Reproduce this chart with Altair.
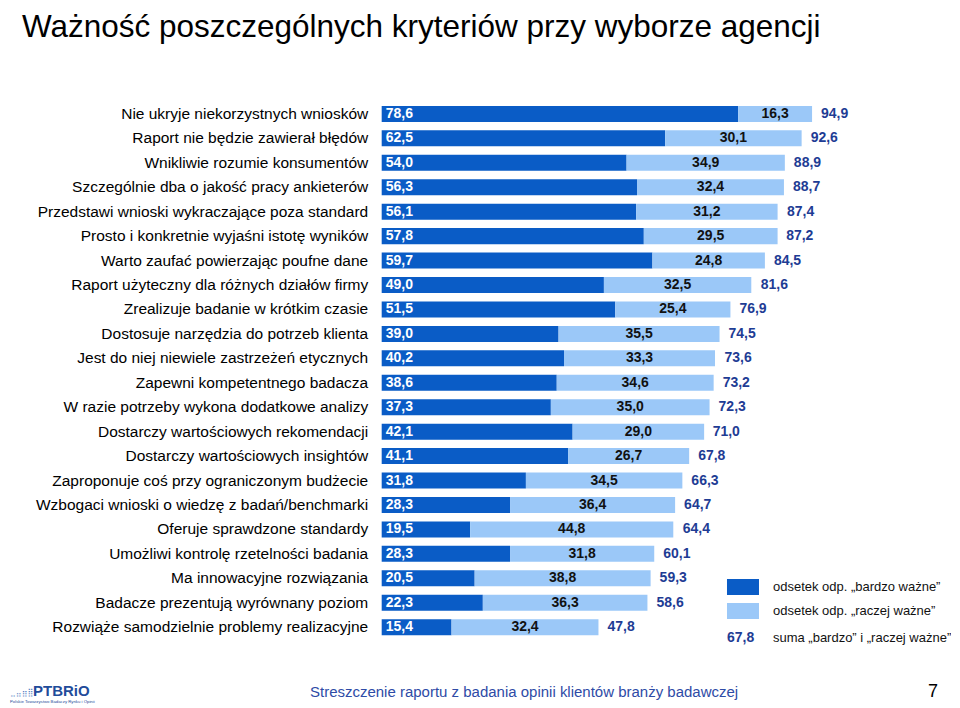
import altair as alt
import pandas as pd

categories = [
    "Nie ukryje niekorzystnych wniosków",
    "Raport nie będzie zawierał błędów",
    "Wnikliwie rozumie konsumentów",
    "Szczególnie dba o jakość pracy ankieterów",
    "Przedstawi wnioski wykraczające poza standard",
    "Prosto i konkretnie wyjaśni istotę wyników",
    "Warto zaufać powierzając poufne dane",
    "Raport użyteczny dla różnych działów firmy",
    "Zrealizuje badanie w krótkim czasie",
    "Dostosuje narzędzia do potrzeb klienta",
    "Jest do niej niewiele zastrzeżeń etycznych",
    "Zapewni kompetentnego badacza",
    "W razie potrzeby wykona dodatkowe analizy",
    "Dostarczy wartościowych rekomendacji",
    "Dostarczy wartościowych insightów",
    "Zaproponuje coś przy ograniczonym budżecie",
    "Wzbogaci wnioski o wiedzę z badań/benchmarki",
    "Oferuje sprawdzone standardy",
    "Umożliwi kontrolę rzetelności badania",
    "Ma innowacyjne rozwiązania",
    "Badacze prezentują wyrównany poziom",
    "Rozwiąże samodzielnie problemy realizacyjne",
]
bardzo = [78.6, 62.5, 54.0, 56.3, 56.1, 57.8, 59.7, 49.0, 51.5, 39.0, 40.2,
          38.6, 37.3, 42.1, 41.1, 31.8, 28.3, 19.5, 28.3, 20.5, 22.3, 15.4]
raczej = [16.3, 30.1, 34.9, 32.4, 31.2, 29.5, 24.8, 32.5, 25.4, 35.5, 33.3,
          34.6, 35.0, 29.0, 26.7, 34.5, 36.4, 44.8, 31.8, 38.8, 36.3, 32.4]
suma = [94.9, 92.6, 88.9, 88.7, 87.4, 87.2, 84.5, 81.6, 76.9, 74.5, 73.6,
        73.2, 72.3, 71.0, 67.8, 66.3, 64.7, 64.4, 60.1, 59.3, 58.6, 47.8]

series_keys = ["bardzo", "raczej"]
legend_labels = ["odsetek odp. „bardzo ważne”", "odsetek odp. „raczej ważne”"]
legend_sum_value = "67,8"
legend_sum_label = "suma „bardzo” i „raczej ważne”"
title_text = "Ważność poszczególnych kryteriów przy wyborze agencji"
footer_text = "Streszczenie raportu z badania opinii klientów branży badawczej"
page_number = "7"
logo_text = "PTBRiO"
logo_dots = "⣀⣤⣶⣿"
logo_sub = "Polskie Towarzystwo Badaczy Rynku i Opinii"

FONT = "Liberation Sans, Arial, Helvetica, sans-serif"
DARK = "#0A5CC6"
LIGHT = "#9BC8F8"
NAVY = "#1E3C94"

df = pd.DataFrame({"kryterium": categories, "bardzo": bardzo,
                   "raczej": raczej, "suma": suma})

W, H = 453.5, 537.7
PL, PT = 373.7, 93.7
PR, PB = 116, 68

xscale = alt.Scale(domain=[0, 100])
yenc = alt.Y(
    "kryterium:N", sort=categories, title=None,
    scale=alt.Scale(paddingInner=0.345, paddingOuter=0.1725),
    axis=alt.Axis(domain=False, ticks=False, labelPadding=14, labelFontSize=15.5,
                  labelFont=FONT, labelColor="#000000", labelLimit=400,
                  labelBaseline="middle"),
)

base = alt.Chart(df)

bars = base.transform_fold(series_keys, as_=["seg", "val"]).transform_calculate(
    ord="datum.seg == 'bardzo' ? 0 : 1"
).mark_bar().encode(
    y=yenc,
    x=alt.X("val:Q", stack="zero", scale=xscale, axis=None),
    color=alt.Color(
        "seg:N",
        scale=alt.Scale(domain=series_keys, range=[DARK, LIGHT]),
        legend=alt.Legend(
            title=None, orient="none", legendX=345.3, legendY=469.3, padding=0,
            symbolType="M-1,-0.5H1V0.5H-1Z", symbolSize=1024, symbolStrokeWidth=0,
            symbolOpacity=1, labelFont=FONT, labelFontSize=13, labelColor="#111111",
            labelOffset=14, rowPadding=0, labelLimit=300,
            labelExpr="datum.value == 'bardzo' ? '" + legend_labels[0] + "' : '" + legend_labels[1] + "'",
        ),
    ),
    order=alt.Order("ord:Q"),
)

fmt = "replace(format({f}, '.1f'), '.', ',')"

dark_txt = base.transform_calculate(
    zero="0", lbl=fmt.format(f="datum.bardzo")
).mark_text(align="left", baseline="middle", dx=4, color="white",
            fontWeight="bold", fontSize=14, font=FONT).encode(
    y=yenc, x=alt.X("zero:Q", scale=xscale), text="lbl:N")

light_txt = base.transform_calculate(
    mid="datum.bardzo + datum.raczej / 2", lbl=fmt.format(f="datum.raczej")
).mark_text(align="center", baseline="middle", color="#111111",
            fontWeight="bold", fontSize=14, font=FONT).encode(
    y=yenc, x=alt.X("mid:Q", scale=xscale), text="lbl:N")

sum_txt = base.transform_calculate(
    lbl=fmt.format(f="datum.suma")
).mark_text(align="left", baseline="middle", dx=9, color=NAVY,
            fontWeight="bold", fontSize=14, font=FONT).encode(
    y=yenc, x=alt.X("suma:Q", scale=xscale), text="lbl:N")

def note(text, x, y, font=FONT, **kw):
    return alt.Chart(pd.DataFrame({"t": [text]})).mark_text(
        font=font, baseline="alphabetic", **kw
    ).encode(x=alt.value(x - 8 - PL), y=alt.value(y - 8 - PT), text="t:N")

title = note(title_text, 22, 37, align="left", fontSize=31.5, color="#000000")
leg_val = note(legend_sum_value, 727, 642, align="left", fontSize=14,
               fontWeight="bold", color=NAVY)
leg_lab = note(legend_sum_label, 773, 642, align="left", fontSize=13,
               color="#111111")
footer = note(footer_text, 310, 697, align="left", fontSize=15, color="#2E4BA6")
pnum = note(page_number, 938, 697, align="right", fontSize=18, color="#000000")
logo = note(logo_text, 33, 696, align="left", fontSize=15, fontWeight="bold",
            color="#1F4C9A")
dots = note(logo_dots, 10, 695, font="DejaVu Sans", align="left", fontSize=8,
            color="#4A78C0")
logo2 = note(logo_sub, 10, 703, align="left", fontSize=4.3, color="#1F4C9A")

chart = alt.layer(
    bars, dark_txt, light_txt, sum_txt, title, leg_val, leg_lab, footer, pnum,
    logo, dots, logo2
).properties(
    width=W, height=H,
    background="white",
    autosize=alt.AutoSizeParams(type="none"),
    padding={"left": PL, "top": PT, "right": PR, "bottom": PB},
).configure_view(stroke=None)

chart.save("out.html", embed_options={"renderer": "svg", "actions": False})
